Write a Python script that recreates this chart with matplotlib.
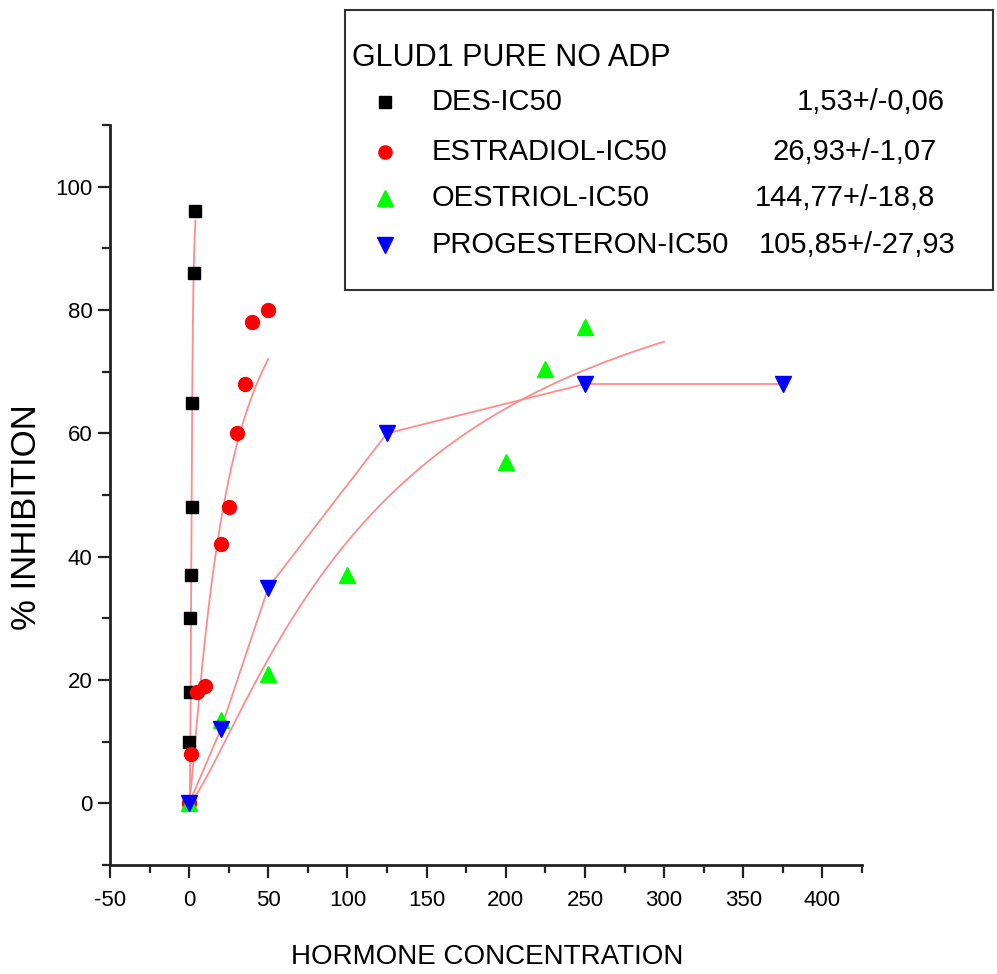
import numpy as np
import matplotlib
matplotlib.use("Agg")
import matplotlib.pyplot as plt
from matplotlib import font_manager as fm
from matplotlib.lines import Line2D
from matplotlib.patches import Rectangle

# ---------------- data ----------------
des_x = [0, 0.2, 0.4, 0.8, 1.2, 1.5, 2.0, 2.8, 4.0]
des_y = [0, 10, 18, 30, 37, 48, 65, 86, 96]

estr_x = [0, 1, 5, 10, 20, 25, 30, 35, 40, 50]
estr_y = [0, 8, 18, 19, 42, 48, 60, 68, 78, 80]

oest_x = [0, 20, 50, 100, 200, 225, 250]
oest_y = [0, 13.5, 21, 37, 55.3, 70.5, 77.2]

prog_x = [0, 20, 50, 125, 250, 375]
prog_y = [0, 12, 35, 60, 68, 68]

# Hill-type fit parameters (top, half-point, slope, curve end)
des_fit = (100, 1.55, 3.0, 4.0)
estr_fit = (100, 23.0, 1.22, 50)
oest_fit = (100, 127, 1.27, 300)

legend_title = "GLUD1 PURE NO ADP"
legend_names = ["DES-IC50", "ESTRADIOL-IC50", "OESTRIOL-IC50", "PROGESTERON-IC50"]
legend_values = ["1,53+/-0,06", "26,93+/-1,07", "144,77+/-18,8", "105,85+/-27,93"]

x_ticks = [-50, 0, 50, 100, 150, 200, 250, 300, 350, 400]
y_ticks = [0, 20, 40, 60, 80, 100]

# ---------------- fonts ----------------
names = {f.name for f in fm.fontManager.ttflist}
narrow = "Liberation Sans Narrow" if "Liberation Sans Narrow" in names else "Liberation Sans"
regular = "Liberation Sans"
plt.rcParams["font.family"] = [narrow, "DejaVu Sans"]

W, H = 997, 974
fig = plt.figure(figsize=(W / 100, H / 100), dpi=100)
ax = fig.add_axes([110 / W, 1 - 865 / H, (862 - 110) / W, (865 - 125) / H])

fit_color = "#ff8c8c"


def hill(x, top, c, n):
    x = np.asarray(x, dtype=float)
    out = np.zeros_like(x)
    m = x > 0
    out[m] = top / (1 + (c / x[m]) ** n)
    return out


for (top, c, n, xend) in [des_fit, estr_fit, oest_fit]:
    xs = np.linspace(0, xend, 400)
    ax.plot(xs, hill(xs, top, c, n), color=fit_color, lw=1.3, zorder=2)

ax.plot(prog_x, prog_y, color=fit_color, lw=1.3, zorder=2)

ms = 9
ax.plot(des_x, des_y, "s", color="black", ms=ms, ls="none", zorder=3)
ax.plot(estr_x, estr_y, "o", color="#ff0000", ms=ms + 1, ls="none", zorder=3)
ax.plot(oest_x, oest_y, "^", color="#00ff00", ms=ms + 2, ls="none", zorder=3)
ax.plot(prog_x, prog_y, "v", color="#0000ff", ms=ms + 2, ls="none", zorder=4)

ax.set_xlim(-50, 425)
ax.set_ylim(-10, 110)
ax.set_xticks(x_ticks)
ax.set_xticks(np.arange(-25, 426, 50), minor=True)
ax.set_yticks(y_ticks)
ax.set_yticks(np.arange(-10, 111, 20), minor=True)
ax.set_xticklabels([str(v) for v in x_ticks])
ax.set_yticklabels([str(v) for v in y_ticks])

for s in ["top", "right"]:
    ax.spines[s].set_visible(False)
for s in ["left", "bottom"]:
    ax.spines[s].set_linewidth(2)
    ax.spines[s].set_color("#222222")

ax.tick_params(axis="both", which="major", direction="out", length=9, width=1.6,
               labelsize=16, colors="#222222", labelcolor="black")
ax.tick_params(axis="both", which="minor", direction="out", length=6, width=1.6,
               colors="#222222")
ax.tick_params(axis="x", pad=9)
ax.tick_params(axis="y", pad=3.5)

fig.text(0.5 * (300 + 675) / W, 1 - 957 / H, "HORMONE CONCENTRATION",
         ha="center", va="center", fontsize=20, family=[narrow, "DejaVu Sans"])
fig.text(26 / W, 1 - 517 / H, "% INHIBITION", rotation=90,
         ha="center", va="center", fontsize=25, family=[regular, "DejaVu Sans"])

# ---------------- legend box ----------------
fig.patches.append(Rectangle((345 / W, 1 - 290 / H), (993 - 345) / W, (290 - 10) / H,
                             transform=fig.transFigure, fill=True, facecolor="white",
                             edgecolor="#333333", lw=1.5, zorder=5))
fig.text(352 / W, 1 - 58 / H, legend_title, ha="left", va="center",
         fontsize=22, zorder=6)

row_y = [102, 152, 198, 245]
val_end_x = [945, 937, 935, 955]
styles = [("s", "black", 8), ("o", "#ff0000", 9.5), ("^", "#00ff00", 11), ("v", "#0000ff", 11)]
for ry, name, val, vx, (mk, col, msz) in zip(row_y, legend_names, legend_values, val_end_x, styles):
    yf = 1 - ry / H
    fig.lines.append(Line2D([385 / W], [yf], marker=mk, color=col, ms=msz, ls="none",
                            transform=fig.transFigure, zorder=6))
    fig.text(432 / W, yf, name, ha="left", va="center", fontsize=21, zorder=6)
    fig.text(vx / W, yf, val, ha="right", va="center", fontsize=21, zorder=6)

fig.savefig("out.png", dpi=100)
